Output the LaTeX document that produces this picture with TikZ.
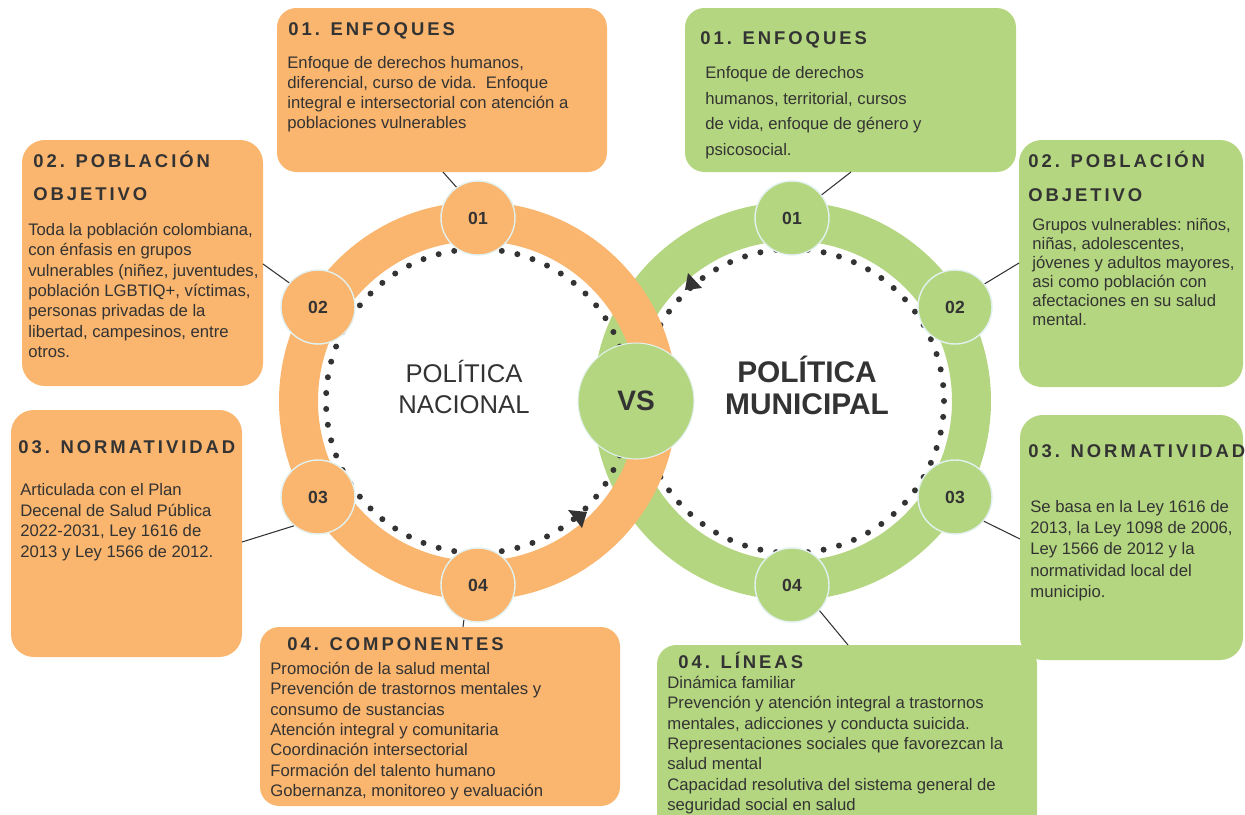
\documentclass[tikz,border=0pt]{standalone}
\usepackage{fontspec}
\setmainfont{Liberation Sans}
\newfontfamily\hdfont[LetterSpace=16]{Liberation Sans}
\definecolor{naranja}{HTML}{FAB56E}
\definecolor{verde}{HTML}{B5D680}
\definecolor{tinta}{HTML}{333333}
\definecolor{borde}{HTML}{E2F1EF}
\frenchspacing
\tikzset{
  titulo/.style={anchor=base west, inner sep=0pt, text=tinta,
    font=\hdfont\bfseries\nonfrenchspacing\fontsize{10.5}{12}\selectfont},
  cuerpo/.style={anchor=north west, inner sep=0pt, align=left, text=tinta,
    font=\fontsize{9.5}{#1}\selectfont},
  num/.style={circle, minimum size=1.48cm, inner sep=0pt, draw=borde,
    line width=0.8pt, text=tinta, font=\bfseries\fontsize{10}{12}\selectfont},
  enlace/.style={draw=tinta, line width=0.6pt},
}
\begin{document}
\begin{tikzpicture}[x=0.02cm, y=-0.02cm]
  \def\Ro{199} \def\Ri{160} \def\Rd{152}
  \useasboundingbox (0,0) rectangle (1245,815);
  \coordinate (cl) at (478,401);
  \coordinate (cr) at (792,401);

  % anillo municipal
  \fill[verde, even odd rule] (cr) circle (\Ro) (cr) circle (\Ri);
  \foreach \a in {0,6,...,354}
    \fill[tinta] ([shift={(\a:\Rd)}]cr) circle (3);
  % anillo nacional
  \fill[naranja, even odd rule] (cl) circle (\Ro) (cl) circle (\Ri);
  \foreach \a in {3,9,...,357}
    \fill[tinta] ([shift={(\a:\Rd)}]cl) circle (3);

  \fill[tinta] (568,510) -- (587,512) -- (582,528) -- cycle;
  \fill[tinta] (685,290) -- (702,288) -- (688,273) -- cycle;

  \node[circle, fill=verde, draw=borde, line width=0.6pt, minimum size=2.32cm,
    text=tinta, font=\bfseries\fontsize{16}{18}\selectfont] (vs) at (636,401) {VS};

  \node[text=tinta, align=center, font=\fontsize{14.6}{18.2}\selectfont]
    (tnac) at (464,387) {POLÍTICA\\NACIONAL};
  \node[text=tinta, align=center, font=\bfseries\fontsize{17}{18.2}\selectfont]
    (tmun) at (807,385) {POLÍTICA\\MUNICIPAL};

  % circulos numerados
  \node[num, fill=naranja] (nl1) at (478,218) {01};
  \node[num, fill=naranja] (nl2) at (318,307) {02};
  \node[num, fill=naranja] (nl3) at (318,497) {03};
  \node[num, fill=naranja] (nl4) at (478,585) {04};
  \node[num, fill=verde] (nr1) at (792,218) {01};
  \node[num, fill=verde] (nr2) at (955,307) {02};
  \node[num, fill=verde] (nr3) at (955,497) {03};
  \node[num, fill=verde] (nr4) at (792,585) {04};

  % cajas
  \fill[naranja, rounded corners=11pt] (277,8) rectangle (607,172);
  \fill[naranja, rounded corners=13pt] (22,140) rectangle (263,386);
  \fill[naranja, rounded corners=13pt] (11,410) rectangle (242,657);
  \fill[naranja, rounded corners=11pt] (260,627) rectangle (620,806);
  \fill[verde, rounded corners=11pt] (685,8) rectangle (1016,172);
  \fill[verde, rounded corners=13pt] (1019,140) rectangle (1243,387);
  \fill[verde, rounded corners=13pt] (1020,415) rectangle (1243,660);
  \fill[verde, rounded corners=11pt] (657,645) rectangle (1037,850);

  \coordinate (t1) at (443,172);
  \coordinate (t2) at (263,264);
  \coordinate (t3) at (242,542);
  \coordinate (t4) at (463,627);
  \coordinate (u1) at (851,172);
  \coordinate (u2) at (1019,263);
  \coordinate (u3) at (1020,539);
  \coordinate (u4) at (848,645);
  \draw[enlace] (nl1.125) -- (t1);
  \draw[enlace] (nl2.140) -- (t2);
  \draw[enlace] (nl3.-130) -- (t3);
  \draw[enlace] (nl4.-112) -- (t4);
  \draw[enlace] (nr1.38) -- (u1);
  \draw[enlace] (nr2.38) -- (u2);
  \draw[enlace] (nr3.-40) -- (u3);
  \draw[enlace] (nr4.-43) -- (u4);

  % textos nacionales
  \node[titulo] (hl1) at (288,35) {01. ENFOQUES};
  \node[cuerpo=11.4pt] (bl1) at (287,56) {Enfoque de derechos humanos,\\
    diferencial, curso de vida.\ \ Enfoque\\
    integral e intersectorial con atención a\\
    poblaciones vulnerables};
  \node[titulo] (hl2) at (33,167) {02. POBLACIÓN};
  \node[titulo] (hl2b) at (33,200) {OBJETIVO};
  \node[cuerpo=11.55pt] (bl2) at (28,223) {Toda la población colombiana,\\
    con énfasis en grupos\\
    vulnerables (niñez, juventudes,\\
    población LGBTIQ+, víctimas,\\
    personas privadas de la\\
    libertad, campesinos, entre\\
    otros.};
  \node[titulo] (hl3) at (18,453) {03. NORMATIVIDAD};
  \node[cuerpo=11.78pt] (bl3) at (20,483) {Articulada con el Plan\\
    Decenal de Salud Pública\\
    2022-2031, Ley 1616 de\\
    2013 y Ley 1566 de 2012.};
  \node[titulo] (hl4) at (287,650) {04. COMPONENTES};
  \node[cuerpo=11.55pt] (bl4) at (270,662) {Promoción de la salud mental\\
    Prevención de trastornos mentales y\\
    consumo de sustancias\\
    Atención integral y comunitaria\\
    Coordinación intersectorial\\
    Formación del talento humano\\
    Gobernanza, monitoreo y evaluación};

  % textos municipales
  \node[titulo] (hr1) at (700,44) {01. ENFOQUES};
  \node[cuerpo=14.6pt] (br1) at (705,66) {Enfoque de derechos\\
    humanos, territorial, cursos\\
    de vida, enfoque de género y\\
    psicosocial.};
  \node[titulo] (hr2) at (1028,167) {02. POBLACIÓN};
  \node[titulo] (hr2b) at (1028,201) {OBJETIVO};
  \node[cuerpo=10.8pt] (br2) at (1032,218) {Grupos vulnerables: niños,\\
    niñas, adolescentes,\\
    jóvenes y adultos mayores,\\
    asi como población con\\
    afectaciones en su salud\\
    mental.};
  \node[titulo] (hr3) at (1028,457) {03. NORMATIVIDAD};
  \node[cuerpo=12.1pt] (br3) at (1030,500) {Se basa en la Ley 1616 de\\
    2013, la Ley 1098 de 2006,\\
    Ley 1566 de 2012 y la\\
    normatividad local del\\
    municipio.};
  \node[titulo] (hr4) at (678,668) {04. LÍNEAS};
  \node[cuerpo=11.55pt] (br4) at (667,676) {Dinámica familiar\\
    Prevención y atención integral a trastornos\\
    mentales, adicciones y conducta suicida.\\
    Representaciones sociales que favorezcan la\\
    salud mental\\
    Capacidad resolutiva del sistema general de\\
    seguridad social en salud};
\end{tikzpicture}
\end{document}
